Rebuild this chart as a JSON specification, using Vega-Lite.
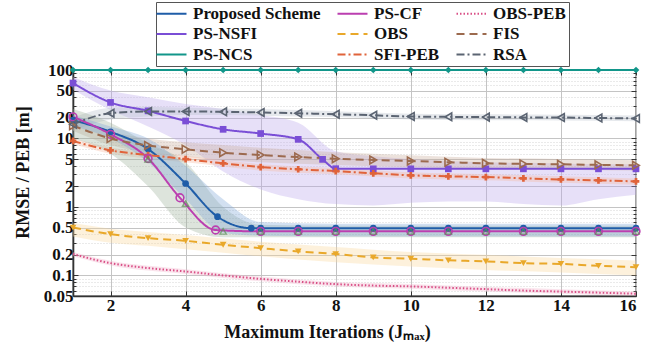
{
  "$schema": "https://vega.github.io/schema/vega-lite/v6.json",
  "width": 563,
  "height": 226,
  "autosize": {"type": "none"},
  "padding": {"left": 73, "top": 70, "right": 31, "bottom": 51},
  "background": "white",
  "config": {
    "view": {"stroke": "#333333", "strokeWidth": 1.3},
    "font": "Liberation Serif, Times New Roman, serif",
    "legend": {
      "orient": "none", "legendX": 83, "legendY": -68, "columns": 3, "direction": "horizontal",
      "title": null, "symbolType": "M-3,0H3", "symbolSize": 100, "symbolOffset": 4, "symbolStrokeWidth": 2.2,
      "labelFont": "Liberation Serif, Times New Roman, serif", "labelFontWeight": "bold", "labelFontSize": 17, "labelColor": "#111111",
      "labelOffset": 13, "columnPadding": 12, "rowPadding": 2.5, "padding": 3,
      "strokeColor": "#555555", "fillColor": "white", "labelLimit": 300
    }
  },
  "datasets": {
    "lines": [
      {"s": "Proposed Scheme", "x": 1, "y": 18.5}, {"s": "Proposed Scheme", "x": 2, "y": 12.5}, {"s": "Proposed Scheme", "x": 3, "y": 7}, {"s": "Proposed Scheme", "x": 4, "y": 2.2}, {"s": "Proposed Scheme", "x": 4.85, "y": 0.72}, {"s": "Proposed Scheme", "x": 5.75, "y": 0.49}, {"s": "Proposed Scheme", "x": 6, "y": 0.49}, {"s": "Proposed Scheme", "x": 7, "y": 0.49}, {"s": "Proposed Scheme", "x": 8, "y": 0.49}, {"s": "Proposed Scheme", "x": 9, "y": 0.49}, {"s": "Proposed Scheme", "x": 10, "y": 0.49}, {"s": "Proposed Scheme", "x": 11, "y": 0.49}, {"s": "Proposed Scheme", "x": 12, "y": 0.49}, {"s": "Proposed Scheme", "x": 13, "y": 0.49}, {"s": "Proposed Scheme", "x": 14, "y": 0.49}, {"s": "Proposed Scheme", "x": 15, "y": 0.49}, {"s": "Proposed Scheme", "x": 16, "y": 0.49},
      {"s": "PS-CF", "x": 1, "y": 20.7}, {"s": "PS-CF", "x": 2, "y": 11.5}, {"s": "PS-CF", "x": 3, "y": 5.1}, {"s": "PS-CF", "x": 3.85, "y": 1.36}, {"s": "PS-CF", "x": 4.8, "y": 0.46}, {"s": "PS-CF", "x": 6, "y": 0.44}, {"s": "PS-CF", "x": 7, "y": 0.44}, {"s": "PS-CF", "x": 8, "y": 0.44}, {"s": "PS-CF", "x": 9, "y": 0.44}, {"s": "PS-CF", "x": 10, "y": 0.44}, {"s": "PS-CF", "x": 11, "y": 0.44}, {"s": "PS-CF", "x": 12, "y": 0.44}, {"s": "PS-CF", "x": 13, "y": 0.44}, {"s": "PS-CF", "x": 14, "y": 0.44}, {"s": "PS-CF", "x": 15, "y": 0.44}, {"s": "PS-CF", "x": 16, "y": 0.44},
      {"s": "OBS-PEB", "x": 1, "y": 0.205}, {"s": "OBS-PEB", "x": 2, "y": 0.151}, {"s": "OBS-PEB", "x": 3, "y": 0.128}, {"s": "OBS-PEB", "x": 4, "y": 0.114}, {"s": "OBS-PEB", "x": 5, "y": 0.1}, {"s": "OBS-PEB", "x": 6, "y": 0.089}, {"s": "OBS-PEB", "x": 7, "y": 0.081}, {"s": "OBS-PEB", "x": 8, "y": 0.0745}, {"s": "OBS-PEB", "x": 9, "y": 0.071}, {"s": "OBS-PEB", "x": 10, "y": 0.069}, {"s": "OBS-PEB", "x": 11, "y": 0.066}, {"s": "OBS-PEB", "x": 12, "y": 0.063}, {"s": "OBS-PEB", "x": 13, "y": 0.06}, {"s": "OBS-PEB", "x": 14, "y": 0.058}, {"s": "OBS-PEB", "x": 15, "y": 0.056}, {"s": "OBS-PEB", "x": 16, "y": 0.054},
      {"s": "PS-NSFI", "x": 1, "y": 64.5}, {"s": "PS-NSFI", "x": 2, "y": 33.6}, {"s": "PS-NSFI", "x": 3, "y": 25.3}, {"s": "PS-NSFI", "x": 4, "y": 18}, {"s": "PS-NSFI", "x": 5, "y": 13.6}, {"s": "PS-NSFI", "x": 6, "y": 11.8}, {"s": "PS-NSFI", "x": 7, "y": 9.7}, {"s": "PS-NSFI", "x": 7.65, "y": 4.95}, {"s": "PS-NSFI", "x": 8, "y": 3.62}, {"s": "PS-NSFI", "x": 9, "y": 3.6}, {"s": "PS-NSFI", "x": 10, "y": 3.6}, {"s": "PS-NSFI", "x": 11, "y": 3.6}, {"s": "PS-NSFI", "x": 12, "y": 3.6}, {"s": "PS-NSFI", "x": 13, "y": 3.6}, {"s": "PS-NSFI", "x": 14, "y": 3.6}, {"s": "PS-NSFI", "x": 15, "y": 3.6}, {"s": "PS-NSFI", "x": 16, "y": 3.6},
      {"s": "OBS", "x": 1, "y": 0.5}, {"s": "OBS", "x": 2, "y": 0.4}, {"s": "OBS", "x": 3, "y": 0.35}, {"s": "OBS", "x": 4, "y": 0.32}, {"s": "OBS", "x": 5, "y": 0.28}, {"s": "OBS", "x": 6, "y": 0.25}, {"s": "OBS", "x": 7, "y": 0.224}, {"s": "OBS", "x": 8, "y": 0.205}, {"s": "OBS", "x": 9, "y": 0.183}, {"s": "OBS", "x": 10, "y": 0.175}, {"s": "OBS", "x": 11, "y": 0.166}, {"s": "OBS", "x": 12, "y": 0.16}, {"s": "OBS", "x": 13, "y": 0.151}, {"s": "OBS", "x": 14, "y": 0.147}, {"s": "OBS", "x": 15, "y": 0.138}, {"s": "OBS", "x": 16, "y": 0.132},
      {"s": "FIS", "x": 1, "y": 15.4}, {"s": "FIS", "x": 2, "y": 10}, {"s": "FIS", "x": 3, "y": 7.9}, {"s": "FIS", "x": 4, "y": 6.95}, {"s": "FIS", "x": 5, "y": 6.2}, {"s": "FIS", "x": 6, "y": 5.73}, {"s": "FIS", "x": 7, "y": 5.36}, {"s": "FIS", "x": 8, "y": 5.07}, {"s": "FIS", "x": 9, "y": 4.85}, {"s": "FIS", "x": 10, "y": 4.68}, {"s": "FIS", "x": 11, "y": 4.5}, {"s": "FIS", "x": 12, "y": 4.33}, {"s": "FIS", "x": 13, "y": 4.25}, {"s": "FIS", "x": 14, "y": 4.19}, {"s": "FIS", "x": 15, "y": 4.12}, {"s": "FIS", "x": 16, "y": 4.05},
      {"s": "PS-NCS", "x": 1, "y": 100}, {"s": "PS-NCS", "x": 2, "y": 100}, {"s": "PS-NCS", "x": 3, "y": 100}, {"s": "PS-NCS", "x": 4, "y": 100}, {"s": "PS-NCS", "x": 5, "y": 100}, {"s": "PS-NCS", "x": 6, "y": 100}, {"s": "PS-NCS", "x": 7, "y": 100}, {"s": "PS-NCS", "x": 8, "y": 100}, {"s": "PS-NCS", "x": 9, "y": 100}, {"s": "PS-NCS", "x": 10, "y": 100}, {"s": "PS-NCS", "x": 11, "y": 100}, {"s": "PS-NCS", "x": 12, "y": 100}, {"s": "PS-NCS", "x": 13, "y": 100}, {"s": "PS-NCS", "x": 14, "y": 100}, {"s": "PS-NCS", "x": 15, "y": 100}, {"s": "PS-NCS", "x": 16, "y": 100},
      {"s": "SFI-PEB", "x": 1, "y": 9.2}, {"s": "SFI-PEB", "x": 2, "y": 6.7}, {"s": "SFI-PEB", "x": 3, "y": 5.73}, {"s": "SFI-PEB", "x": 4, "y": 5.0}, {"s": "SFI-PEB", "x": 5, "y": 4.33}, {"s": "SFI-PEB", "x": 6, "y": 3.82}, {"s": "SFI-PEB", "x": 7, "y": 3.55}, {"s": "SFI-PEB", "x": 8, "y": 3.34}, {"s": "SFI-PEB", "x": 9, "y": 3.1}, {"s": "SFI-PEB", "x": 10, "y": 2.89}, {"s": "SFI-PEB", "x": 11, "y": 2.8}, {"s": "SFI-PEB", "x": 12, "y": 2.73}, {"s": "SFI-PEB", "x": 13, "y": 2.62}, {"s": "SFI-PEB", "x": 14, "y": 2.52}, {"s": "SFI-PEB", "x": 15, "y": 2.44}, {"s": "SFI-PEB", "x": 16, "y": 2.36},
      {"s": "RSA", "x": 1, "y": 16.1}, {"s": "RSA", "x": 2, "y": 23.4}, {"s": "RSA", "x": 3, "y": 24.8}, {"s": "RSA", "x": 4, "y": 24.8}, {"s": "RSA", "x": 5, "y": 24.5}, {"s": "RSA", "x": 6, "y": 24}, {"s": "RSA", "x": 7, "y": 23.3}, {"s": "RSA", "x": 8, "y": 22.6}, {"s": "RSA", "x": 9, "y": 21.8}, {"s": "RSA", "x": 10, "y": 20.9}, {"s": "RSA", "x": 11, "y": 20.7}, {"s": "RSA", "x": 12, "y": 20.5}, {"s": "RSA", "x": 13, "y": 20.3}, {"s": "RSA", "x": 14, "y": 20.2}, {"s": "RSA", "x": 15, "y": 19.9}, {"s": "RSA", "x": 16, "y": 19.6}
    ],
    "tri": [
      {"x": 3, "y": 4.95}, {"x": 4, "y": 1.12}, {"x": 5, "y": 0.44}, {"x": 6, "y": 0.44}, {"x": 7, "y": 0.44}, {"x": 8, "y": 0.44}, {"x": 9, "y": 0.44}, {"x": 10, "y": 0.44}, {"x": 11, "y": 0.44}, {"x": 12, "y": 0.44}, {"x": 13, "y": 0.44}, {"x": 14, "y": 0.44}, {"x": 15, "y": 0.44}, {"x": 16, "y": 0.44}
    ],
    "bands": [
      {"s": "PS-NSFI", "x": 1, "lo": 52, "hi": 80}, {"s": "PS-NSFI", "x": 2, "lo": 26, "hi": 50}, {"s": "PS-NSFI", "x": 3, "lo": 15, "hi": 40}, {"s": "PS-NSFI", "x": 4, "lo": 8, "hi": 32}, {"s": "PS-NSFI", "x": 5, "lo": 3.3, "hi": 27}, {"s": "PS-NSFI", "x": 6, "lo": 1.8, "hi": 22}, {"s": "PS-NSFI", "x": 7, "lo": 1.3, "hi": 17}, {"s": "PS-NSFI", "x": 8, "lo": 1.1, "hi": 6.5}, {"s": "PS-NSFI", "x": 9, "lo": 1.05, "hi": 5.5}, {"s": "PS-NSFI", "x": 10, "lo": 1.15, "hi": 5}, {"s": "PS-NSFI", "x": 11, "lo": 1.2, "hi": 4.7}, {"s": "PS-NSFI", "x": 12, "lo": 1.2, "hi": 4.5}, {"s": "PS-NSFI", "x": 13, "lo": 1.1, "hi": 4.4}, {"s": "PS-NSFI", "x": 14, "lo": 1.05, "hi": 4.3}, {"s": "PS-NSFI", "x": 15, "lo": 1.3, "hi": 4.2}, {"s": "PS-NSFI", "x": 16, "lo": 1.5, "hi": 4.2},
      {"s": "RSA", "x": 1, "lo": 13, "hi": 20}, {"s": "RSA", "x": 2, "lo": 19, "hi": 28}, {"s": "RSA", "x": 3, "lo": 21, "hi": 29}, {"s": "RSA", "x": 4, "lo": 22, "hi": 28}, {"s": "RSA", "x": 5, "lo": 22, "hi": 27.5}, {"s": "RSA", "x": 6, "lo": 21.5, "hi": 27}, {"s": "RSA", "x": 8, "lo": 20.5, "hi": 25}, {"s": "RSA", "x": 10, "lo": 19, "hi": 23}, {"s": "RSA", "x": 12, "lo": 18.5, "hi": 22.5}, {"s": "RSA", "x": 14, "lo": 18.3, "hi": 22.2}, {"s": "RSA", "x": 16, "lo": 17.8, "hi": 21.6},
      {"s": "FIS", "x": 1, "lo": 13, "hi": 18}, {"s": "FIS", "x": 2, "lo": 8, "hi": 12.5}, {"s": "FIS", "x": 3, "lo": 6.2, "hi": 10}, {"s": "FIS", "x": 4, "lo": 5.4, "hi": 8.8}, {"s": "FIS", "x": 5, "lo": 4.8, "hi": 8}, {"s": "FIS", "x": 6, "lo": 4.5, "hi": 7.3}, {"s": "FIS", "x": 8, "lo": 4.1, "hi": 6.3}, {"s": "FIS", "x": 10, "lo": 3.8, "hi": 5.7}, {"s": "FIS", "x": 12, "lo": 3.6, "hi": 5.2}, {"s": "FIS", "x": 14, "lo": 3.5, "hi": 5}, {"s": "FIS", "x": 16, "lo": 3.4, "hi": 4.8},
      {"s": "SFI-PEB", "x": 1, "lo": 8.3, "hi": 10.1}, {"s": "SFI-PEB", "x": 2, "lo": 6, "hi": 7.4}, {"s": "SFI-PEB", "x": 3, "lo": 5.1, "hi": 6.3}, {"s": "SFI-PEB", "x": 4, "lo": 4.5, "hi": 5.6}, {"s": "SFI-PEB", "x": 5, "lo": 3.9, "hi": 4.8}, {"s": "SFI-PEB", "x": 6, "lo": 3.4, "hi": 4.2}, {"s": "SFI-PEB", "x": 8, "lo": 3, "hi": 3.7}, {"s": "SFI-PEB", "x": 10, "lo": 2.6, "hi": 3.2}, {"s": "SFI-PEB", "x": 12, "lo": 2.45, "hi": 3}, {"s": "SFI-PEB", "x": 14, "lo": 2.25, "hi": 2.8}, {"s": "SFI-PEB", "x": 16, "lo": 2.1, "hi": 2.6},
      {"s": "PS-CF", "x": 1, "lo": 10, "hi": 27}, {"s": "PS-CF", "x": 2, "lo": 6, "hi": 17}, {"s": "PS-CF", "x": 3, "lo": 2, "hi": 8.5}, {"s": "PS-CF", "x": 4, "lo": 0.5, "hi": 4.5}, {"s": "PS-CF", "x": 5, "lo": 0.36, "hi": 1.0}, {"s": "PS-CF", "x": 6, "lo": 0.36, "hi": 0.55}, {"s": "PS-CF", "x": 8, "lo": 0.36, "hi": 0.53}, {"s": "PS-CF", "x": 10, "lo": 0.36, "hi": 0.53}, {"s": "PS-CF", "x": 12, "lo": 0.36, "hi": 0.53}, {"s": "PS-CF", "x": 14, "lo": 0.36, "hi": 0.53}, {"s": "PS-CF", "x": 16, "lo": 0.36, "hi": 0.53},
      {"s": "Proposed Scheme", "x": 1, "lo": 15, "hi": 22}, {"s": "Proposed Scheme", "x": 2, "lo": 10, "hi": 15}, {"s": "Proposed Scheme", "x": 3, "lo": 4.5, "hi": 10}, {"s": "Proposed Scheme", "x": 4, "lo": 1.3, "hi": 4}, {"s": "Proposed Scheme", "x": 5, "lo": 0.42, "hi": 1.3}, {"s": "Proposed Scheme", "x": 6, "lo": 0.38, "hi": 0.6}, {"s": "Proposed Scheme", "x": 8, "lo": 0.37, "hi": 0.57}, {"s": "Proposed Scheme", "x": 10, "lo": 0.37, "hi": 0.57}, {"s": "Proposed Scheme", "x": 12, "lo": 0.37, "hi": 0.57}, {"s": "Proposed Scheme", "x": 14, "lo": 0.37, "hi": 0.57}, {"s": "Proposed Scheme", "x": 16, "lo": 0.37, "hi": 0.57},
      {"s": "OBS", "x": 1, "lo": 0.37, "hi": 0.58}, {"s": "OBS", "x": 2, "lo": 0.3, "hi": 0.48}, {"s": "OBS", "x": 3, "lo": 0.27, "hi": 0.43}, {"s": "OBS", "x": 4, "lo": 0.24, "hi": 0.39}, {"s": "OBS", "x": 6, "lo": 0.19, "hi": 0.31}, {"s": "OBS", "x": 8, "lo": 0.155, "hi": 0.26}, {"s": "OBS", "x": 10, "lo": 0.135, "hi": 0.22}, {"s": "OBS", "x": 12, "lo": 0.12, "hi": 0.2}, {"s": "OBS", "x": 14, "lo": 0.11, "hi": 0.18}, {"s": "OBS", "x": 16, "lo": 0.1, "hi": 0.165},
      {"s": "OBS-PEB", "x": 1, "lo": 0.19, "hi": 0.22}, {"s": "OBS-PEB", "x": 2, "lo": 0.139, "hi": 0.163}, {"s": "OBS-PEB", "x": 4, "lo": 0.105, "hi": 0.123}, {"s": "OBS-PEB", "x": 6, "lo": 0.082, "hi": 0.096}, {"s": "OBS-PEB", "x": 8, "lo": 0.069, "hi": 0.08}, {"s": "OBS-PEB", "x": 10, "lo": 0.064, "hi": 0.075}, {"s": "OBS-PEB", "x": 12, "lo": 0.058, "hi": 0.068}, {"s": "OBS-PEB", "x": 14, "lo": 0.054, "hi": 0.063}, {"s": "OBS-PEB", "x": 16, "lo": 0.05, "hi": 0.058}
    ]
  },
  "resolve": {"axis": {"x": "independent", "y": "independent"}},
  "layer": [
    {
      "data": {"name": "bands"},
      "mark": {"type": "area", "interpolate": "monotone", "opacity": 0.35},
      "encoding": {
        "x": {"field": "x", "type": "quantitative", "scale": {"domain": [1, 16], "nice": false}, "axis": null},
        "y": {"field": "lo", "type": "quantitative", "scale": {"type": "log", "domain": [0.05, 100], "nice": false}, "axis": null},
        "y2": {"field": "hi"},
        "fill": {"field": "s", "type": "nominal", "legend": null,
          "scale": {"domain": ["Proposed Scheme", "PS-CF", "OBS-PEB", "PS-NSFI", "OBS", "FIS", "SFI-PEB", "RSA"],
                    "range": ["#7fa6d6", "#9fb39a", "#f0b0c8", "#b9a6ec", "#f8d89a", "#c9ab9a", "#f5b89e", "#b8c0cc"]}}
      }
    },
    {
      "data": {"name": "lines"},
      "mark": {"type": "line", "interpolate": "monotone", "strokeWidth": 2},
      "encoding": {
        "x": {"field": "x", "type": "quantitative", "scale": {"domain": [1, 16], "nice": false},
          "axis": {"values": [2, 4, 6, 8, 10, 12, 14, 16], "grid": true, "gridColor": "#c4c4c4", "gridWidth": 1,
            "tickSize": -5, "tickColor": "#333333", "domainColor": "#333333", "domainWidth": 1.6,
            "labelFont": "Liberation Serif, Times New Roman, serif", "labelFontWeight": "bold", "labelFontSize": 17, "labelColor": "#111111", "labelPadding": 6,
            "title": "Maximum Iterations (Jₘₐₓ)", "titleFont": "Liberation Serif, Times New Roman, serif", "titleFontWeight": "bold", "titleFontSize": 18, "titleColor": "#111111",
            "titleX": 254, "titleY": 41, "titleBaseline": "alphabetic", "titleAlign": "center"}},
        "y": {"field": "y", "type": "quantitative", "scale": {"type": "log", "domain": [0.05, 100], "nice": false},
          "axis": {"values": [0.05, 0.06, 0.07, 0.08, 0.09, 0.1, 0.2, 0.3, 0.4, 0.5, 0.6, 0.7, 0.8, 0.9, 1, 2, 3, 4, 5, 6, 7, 8, 9, 10, 20, 30, 40, 50, 60, 70, 80, 90, 100],
            "format": "~g",
            "labelExpr": "indexof([0.05,0.1,0.2,0.5,1,2,5,10,20,50,100], datum.value) >= 0 ? datum.label : ''",
            "labelOverlap": false,
            "grid": true,
            "gridColor": {"condition": {"test": "indexof([0.05,0.1,0.2,0.5,1,2,5,10,20,50,100], datum.value) < 0", "value": "#d4d4d4"}, "value": "#c4c4c4"},
            "gridDash": {"condition": {"test": "indexof([0.05,0.1,0.2,0.5,1,2,5,10,20,50,100], datum.value) < 0", "value": [1, 2]}, "value": []},
            "tickSize": {"condition": {"test": "indexof([0.05,0.1,0.2,0.5,1,2,5,10,20,50,100], datum.value) < 0", "value": -3}, "value": -5},
            "tickColor": "#333333", "domainColor": "#333333", "domainWidth": 1.6,
            "labelFont": "Liberation Serif, Times New Roman, serif", "labelFontWeight": "bold", "labelFontSize": 17, "labelColor": "#111111", "labelPadding": 5,
            "title": "RMSE / PEB [m]", "titleFont": "Liberation Serif, Times New Roman, serif", "titleFontWeight": "bold", "titleFontSize": 18, "titleColor": "#111111",
            "titleX": -50, "titleY": 102, "titleAlign": "center", "titleBaseline": "middle", "titleAngle": -90}},
        "color": {"field": "s", "type": "nominal",
          "scale": {"domain": ["Proposed Scheme", "PS-CF", "OBS-PEB", "PS-NSFI", "OBS", "FIS", "PS-NCS", "SFI-PEB", "RSA"],
                    "range": ["#1f5da8", "#bb3fb0", "#d94f86", "#7a4ed6", "#e9a82a", "#9c6a4e", "#12968a", "#e0633a", "#5b6472"]},
          "legend": {"orient": "none", "legendX": 83, "legendY": -68, "columns": 3, "direction": "horizontal", "title": null}},
        "strokeDash": {"field": "s", "type": "nominal",
          "scale": {"domain": ["Proposed Scheme", "PS-CF", "OBS-PEB", "PS-NSFI", "OBS", "FIS", "PS-NCS", "SFI-PEB", "RSA"],
                    "range": [[1, 0], [1, 0], [1.5, 2], [1, 0], [8, 5], [8, 5], [1, 0], [8, 3, 2, 3], [8, 3, 2, 3]]},
          "legend": {"orient": "none", "legendX": 83, "legendY": -68, "columns": 3, "direction": "horizontal", "title": null}}
      }
    },
    {
      "data": {"name": "lines"},
      "transform": [{"filter": {"field": "s", "oneOf": ["Proposed Scheme", "PS-NSFI", "PS-NCS", "OBS", "SFI-PEB"]}}],
      "mark": {"type": "point", "filled": true, "opacity": 1},
      "encoding": {
        "x": {"field": "x", "type": "quantitative", "scale": {"domain": [1, 16], "nice": false}, "axis": null},
        "y": {"field": "y", "type": "quantitative", "scale": {"type": "log", "domain": [0.05, 100], "nice": false}, "axis": null},
        "color": {"field": "s", "type": "nominal", "legend": null},
        "shape": {"field": "s", "type": "nominal", "legend": null,
          "scale": {"domain": ["Proposed Scheme", "PS-CF", "PS-NSFI", "OBS", "FIS", "PS-NCS", "SFI-PEB", "RSA"],
                    "range": ["circle", "circle", "square", "triangle-down", "triangle-right", "diamond", "cross", "triangle-left"]}},
        "size": {"value": 45}
      }
    },
    {
      "data": {"name": "lines"},
      "transform": [{"filter": {"field": "s", "oneOf": ["PS-CF", "FIS", "RSA"]}}],
      "mark": {"type": "point", "filled": false, "strokeWidth": 1.6, "opacity": 1},
      "encoding": {
        "x": {"field": "x", "type": "quantitative", "scale": {"domain": [1, 16], "nice": false}, "axis": null},
        "y": {"field": "y", "type": "quantitative", "scale": {"type": "log", "domain": [0.05, 100], "nice": false}, "axis": null},
        "color": {"field": "s", "type": "nominal", "legend": null},
        "shape": {"field": "s", "type": "nominal", "legend": null},
        "size": {"value": 60}
      }
    },
    {
      "data": {"name": "tri"},
      "mark": {"type": "point", "shape": "triangle-up", "filled": false, "color": "#5e8f5a", "strokeWidth": 1.4, "size": 40},
      "encoding": {
        "x": {"field": "x", "type": "quantitative", "scale": {"domain": [1, 16], "nice": false}, "axis": null},
        "y": {"field": "y", "type": "quantitative", "scale": {"type": "log", "domain": [0.05, 100], "nice": false}, "axis": null}
      }
    },
    {
      "data": {"name": "tri"},
      "mark": {"type": "point", "opacity": 0},
      "encoding": {
        "x": {"field": "x", "type": "quantitative", "scale": {"domain": [1, 16], "nice": false},
          "axis": {"orient": "top", "values": [2, 4, 6, 8, 10, 12, 14, 16], "labels": false, "grid": false, "domain": false, "tickSize": -5, "tickColor": "#333333", "title": null}},
        "y": {"field": "y", "type": "quantitative", "scale": {"type": "log", "domain": [0.05, 100], "nice": false},
          "axis": {"orient": "right", "values": [0.05, 0.06, 0.07, 0.08, 0.09, 0.1, 0.2, 0.3, 0.4, 0.5, 0.6, 0.7, 0.8, 0.9, 1, 2, 3, 4, 5, 6, 7, 8, 9, 10, 20, 30, 40, 50, 60, 70, 80, 90, 100],
            "labels": false, "grid": false, "domain": false, "title": null, "tickColor": "#333333",
            "tickSize": {"condition": {"test": "indexof([0.05,0.1,0.2,0.5,1,2,5,10,20,50,100], datum.value) < 0", "value": -3}, "value": -5}}}
      }
    }
  ]
}
